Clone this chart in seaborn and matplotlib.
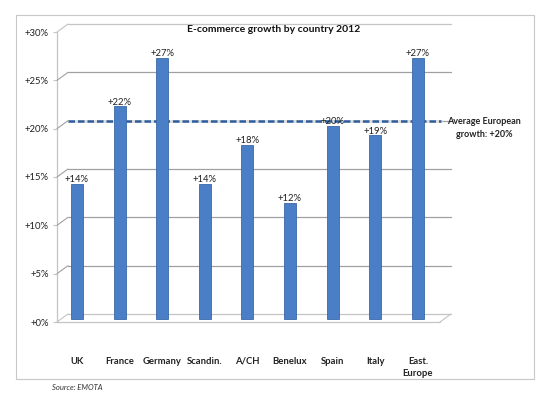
import numpy as np
import pandas as pd
import matplotlib
matplotlib.use('Agg')
import matplotlib.pyplot as plt
import matplotlib.transforms as mtransforms
from matplotlib.patches import Rectangle
import seaborn as sns

sns.set_style('white')
plt.rcParams['font.family'] = ['Lato', 'DejaVu Sans']

# data
countries = ['UK', 'France', 'Germany', 'Scandin.', 'A/CH', 'Benelux', 'Spain', 'Italy', 'East.\nEurope']
growth = [14, 22, 27, 14, 18, 12, 20, 19, 27]
avg_growth = 20
y_ticks = [0, 5, 10, 15, 20, 25, 30]

df = pd.DataFrame({'country': countries, 'growth': growth})

fig = plt.figure(figsize=(5.5, 3.99), dpi=100)
# outer frame
fig.patches.append(Rectangle((16 / 550, 1 - 379 / 399), (534 - 16) / 550, (379 - 15) / 399,
                             transform=fig.transFigure, fill=False, ec='#c8c8c8', lw=0.8))

ax = fig.add_axes([57 / 550, (399 - 322) / 399, 383 / 550, 290 / 399])
x0, x1 = -0.47, 8.52
grid_c = '#a0a0a0'
floor_c = '#c4c4c4'

# back wall is shifted right/up from the front edge
back = ax.transData + mtransforms.ScaledTranslation(0.11, 0.08, fig.dpi_scale_trans)
# cylinders sit a little behind the front edge
mid = ax.transData + mtransforms.ScaledTranslation(0, 0.03, fig.dpi_scale_trans)

for v in y_ticks:
    c = floor_c if v in (0, 30) else grid_c
    ax.plot([x0, x1], [v, v], transform=back, color=c, lw=0.9, clip_on=False, zorder=0)
    # short diagonal from front edge to back wall
    ax.annotate('', xy=(x0, v), xycoords=back, xytext=(x0, v), textcoords='data',
                arrowprops=dict(arrowstyle='-', color=c, lw=0.8, shrinkA=0, shrinkB=0))

# floor
ax.plot([x0, x1], [0, 0], color=floor_c, lw=0.9, clip_on=False, zorder=1)
ax.annotate('', xy=(x1, 0), xycoords=back, xytext=(x1, 0), textcoords='data',
            arrowprops=dict(arrowstyle='-', color=floor_c, lw=0.8, shrinkA=0, shrinkB=0))

sns.barplot(data=df, x='country', y='growth', color='#4a7ec6', width=0.28,
            saturation=1, edgecolor='#3a68a8', linewidth=0.6, ax=ax, zorder=3)
for p in ax.containers[0]:
    p.set_transform(mid)
    p.set_clip_on(False)
labels = ax.bar_label(ax.containers[0], labels=[f'+{v}%' for v in growth],
                      padding=2, fontsize=6.8, color='#222222')
for t in labels:
    t.set_transform(mid)

# average line on the back wall
ax.plot([x0, 8.28], [avg_growth, avg_growth], transform=back, color='#dcdcdc',
        lw=2.0, clip_on=False, zorder=1)
ax.plot([x0, 8.28], [avg_growth, avg_growth], transform=back, color='#2f5f9e',
        lw=1.8, dashes=(2.6, 1.2), clip_on=False, zorder=2)
fig.text(484 / 550, 1 - 128 / 399, 'Average European\ngrowth: +20%', ha='center',
         va='center', fontsize=6.5, fontweight='bold', color='#222222', linespacing=1.5)

ax.set_xlim(x0, x1)
ax.set_ylim(0, 30)
ax.set_yticks(y_ticks)
ax.set_yticklabels([f'+{v}%' for v in y_ticks], fontsize=6.8, color='#222222')
ax.set_xticks(range(len(countries)))
ax.set_xticklabels(countries, fontsize=6.8, fontweight='bold', color='#222222', linespacing=1.4)
ax.set_xticks(np.arange(0.5, 8.5, 1), minor=True)
ax.tick_params(axis='x', which='major', length=0, pad=25)
ax.tick_params(axis='x', which='minor', length=3, color=floor_c, width=0.8)
ax.tick_params(axis='y', length=3, color=floor_c, width=0.8, pad=3, left=True)
ax.set_xlabel('')
ax.set_ylabel('')
for s in ['top', 'right', 'bottom']:
    ax.spines[s].set_visible(False)
ax.spines['left'].set_color(floor_c)
ax.spines['left'].set_linewidth(0.9)
ax.patch.set_visible(False)

fig.text(274 / 550, 1 - 29 / 399, 'E-commerce growth by country 2012', ha='center',
         va='center', fontsize=7.5, fontweight='bold', color='#111111')
fig.text(52 / 550, 1 - 387 / 399, 'Source: EMOTA', ha='left', va='center',
         fontsize=5.5, style='italic', color='#333333')

fig.savefig('out.png', dpi=100)
